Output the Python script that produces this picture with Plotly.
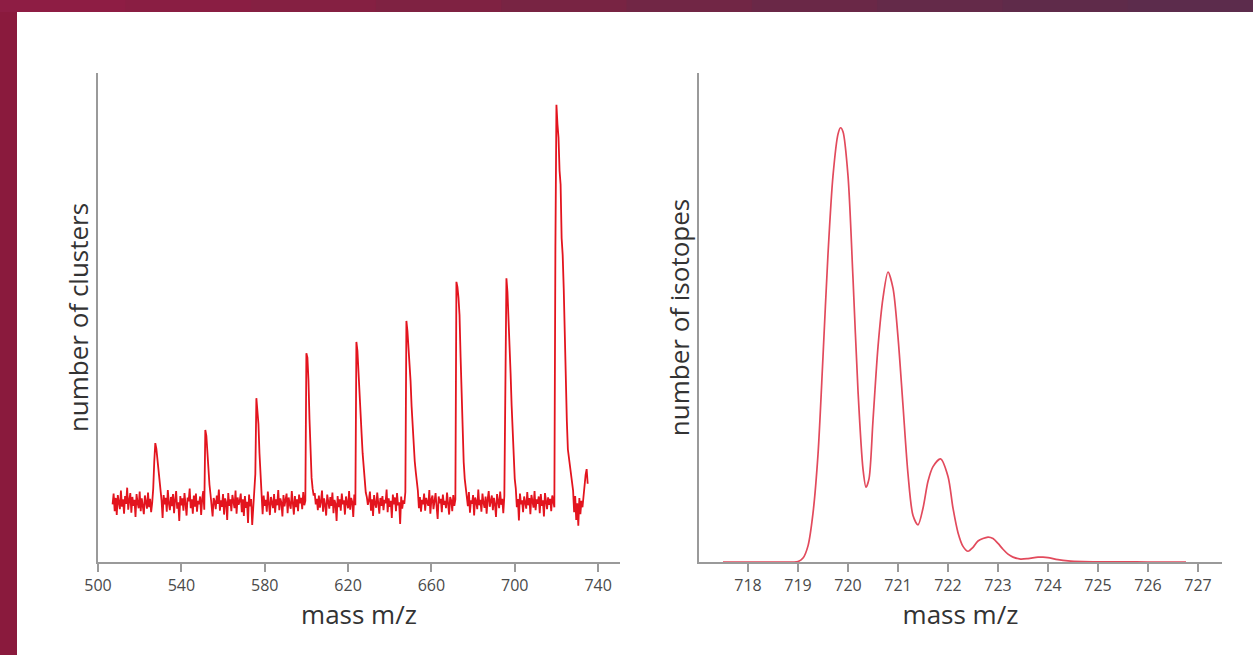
import numpy as np
import plotly.graph_objects as go

# ---------------- Left panel: mass spectrum of clusters ----------------
MZ_START = 507.0
MZ_STEP = 0.5

# baseline readings (arbitrary counts), one every 0.5 m/z from 507 to 735
NOISE = [
    118, 140, 104, 131, 96, 137, 122, 108, 146, 113, 128, 99, 135, 119, 152, 107, 126, 141, 101, 133,
    115, 127, 92, 139, 121, 110, 144, 104, 130, 117, 98, 136, 124, 109, 142, 112, 129, 102, 121, 138,
    125, 108, 134, 97, 129, 143, 111, 126, 90, 137, 118, 131, 103, 147, 120, 106, 133, 114, 139, 100,
    127, 145, 109, 122, 84, 135, 116, 130, 105, 141, 119, 95, 132, 124, 150, 110, 128, 99, 136, 113,
    140, 103, 125, 118, 134, 96, 129, 145, 107, 121, 138, 112, 127, 101, 143, 117, 93, 131, 124, 108,
    136, 119, 148, 105, 126, 113, 139, 97, 130, 122, 86, 141, 115, 128, 104, 137, 120, 110, 146, 99,
    132, 117, 125, 140, 102, 128, 94, 135, 111, 123, 80, 138, 114, 129, 76, 120, 134, 107, 126, 118,
    131, 109, 142, 121, 98, 136, 115, 127, 103, 144, 119, 96, 133, 124, 110, 139, 101, 128, 116, 147,
    106, 130, 122, 93, 137, 114, 126, 140, 100, 132, 118, 109, 145, 123, 97, 135, 112, 128, 104, 138,
    120, 131, 108, 143, 116, 125, 99, 139, 113, 127, 102, 134, 121, 88, 141, 118, 129, 106, 136, 111,
    124, 146, 103, 130, 117, 95, 138, 122, 109, 133, 115, 142, 100, 127, 119, 84, 135, 112, 128, 105,
    140, 118, 126, 97, 134, 121, 110, 145, 107, 131, 123, 92, 138, 116, 129, 103, 136, 120, 114, 127,
    108, 139, 122, 100, 133, 117, 126, 144, 105, 128, 94, 137, 119, 111, 142, 124, 99, 131, 115, 135,
    106, 127, 120, 148, 102, 130, 113, 125, 90, 138, 118, 132, 104, 141, 116, 122, 78, 134, 109, 126,
    119, 143, 112, 128, 100, 135, 121, 107, 139, 117, 130, 96, 145, 124, 110, 133, 103, 127, 118, 140,
    105, 131, 122, 115, 147, 99, 128, 136, 108, 124, 141, 113, 88, 134, 120, 129, 102, 138, 117, 125,
    110, 142, 119, 97, 133, 126, 104, 137, 115, 128, 101, 139, 123, 112, 146, 118, 130, 107, 135, 121,
    130, 114, 143, 101, 126, 119, 137, 95, 132, 124, 108, 148, 116, 127, 103, 140, 121, 111, 134, 99,
    128, 145, 113, 122, 136, 106, 131, 118, 92, 139, 125, 110, 144, 117, 129, 100, 135, 121, 114, 138,
    104, 127, 133, 119, 147, 108, 124, 136, 112, 129, 85, 140, 118, 126, 102, 134, 121, 109, 143, 116,
    131, 98, 137, 123, 111, 145, 106, 128, 119, 134, 100, 139, 115, 126, 93, 141, 122, 108, 132, 117,
    129, 104, 136, 120, 112, 143, 97, 130, 125, 109, 138, 116, 127, 101, 140, 119, 113, 133, 106, 124,
    137, 111, 128, 102, 135, 86, 120, 74, 131, 98, 125, 112, 140, 150, 178, 190, 160,
]

# cluster peaks: first m/z of each peak profile and its readings (0.5 m/z apart)
PEAK_START_MZ = [526.5, 551.5, 575.5, 600.0, 624.0, 648.0, 672.0, 695.5, 719.5]
PEAK_PROFILES = [
    [150, 205, 243, 232, 212, 188, 160, 138],
    [270, 258, 218, 186, 158, 138],
    [180, 335, 312, 282, 222, 176, 150],
    [427, 418, 372, 292, 215, 172, 150, 136],
    [450, 432, 396, 356, 308, 262, 222, 194, 162, 142],
    [493, 472, 442, 410, 370, 318, 272, 236, 206, 184, 164, 146],
    [573, 562, 540, 505, 420, 332, 262, 204, 170, 148],
    [430, 580, 552, 506, 450, 386, 320, 256, 202, 170, 150],
    [640, 935, 895, 868, 800, 772, 662, 628, 560, 468, 340, 288, 230, 214, 190, 180, 160, 146],
]

LEFT_XTICKS = [500, 540, 580, 620, 660, 700, 740]

# ---------------- Right panel: isotope distribution ----------------
ISO_MZ = [717.5, 718.0, 718.5, 719.0, 719.1, 719.2, 719.3, 719.4, 719.5, 719.6, 719.7, 719.8,
          719.85, 719.9, 720.0, 720.1, 720.2, 720.3, 720.36, 720.42, 720.5, 720.6, 720.7, 720.8,
          720.9, 721.0, 721.1, 721.2, 721.3, 721.4, 721.5, 721.6, 721.7, 721.85, 722.0, 722.1,
          722.2, 722.3, 722.4, 722.5, 722.6, 722.8, 722.9, 723.0, 723.1, 723.2, 723.3, 723.45,
          723.6, 723.8, 723.9, 724.0, 724.2, 724.4, 724.7, 725.0, 725.5, 726.0, 726.76]
ISO_COUNT = [0, 0, 0, 0.1, 0.8, 3.3, 10, 22, 42, 63, 79, 87.5,
             88.8, 88, 79, 58, 35, 19, 15.3, 17, 29, 44, 54, 59.3,
             56, 46, 32, 18, 9.5, 7.6, 11, 16.5, 19.5, 21.1, 17.5, 11,
             6, 3.2, 2.2, 3, 4.3, 5.1, 4.8, 3.8, 2.6, 1.6, 1.0, 0.6,
             0.7, 1.0, 1.0, 0.9, 0.5, 0.25, 0.1, 0.05, 0.02, 0, 0]
RIGHT_XTICKS = [718, 719, 720, 721, 722, 723, 724, 725, 726, 727]

# ---------------- build series ----------------
intensity = np.array(NOISE, dtype=float)
mz = MZ_START + MZ_STEP * np.arange(len(intensity))
for start, prof in zip(PEAK_START_MZ, PEAK_PROFILES):
    i0 = int(round((start - MZ_START) / MZ_STEP))
    intensity[i0:i0 + len(prof)] = prof

FONT = "Open Sans, Noto Sans, sans-serif"
AXIS_GREY = "#9a9a9a"
TITLE_FONT = dict(family=FONT, size=26, color="#333333")

fig = go.Figure()
fig.add_trace(go.Scatter(x=mz, y=intensity, mode="lines",
                         line=dict(color="#e3141e", width=1.8),
                         xaxis="x", yaxis="y", showlegend=False, hoverinfo="skip"))
fig.add_trace(go.Scatter(x=ISO_MZ, y=ISO_COUNT, mode="lines",
                         line=dict(color="#e24a5c", width=1.7, shape="spline", smoothing=0.8),
                         xaxis="x2", yaxis="y2", showlegend=False, hoverinfo="skip"))

xcommon = dict(showgrid=False, zeroline=False, showline=True, linecolor=AXIS_GREY, linewidth=2,
               ticks="outside", ticklen=8, tickwidth=1.5, tickcolor=AXIS_GREY,
               tickfont=dict(family=FONT, size=16, color="#4a4a4a"),
               title=dict(text="mass m/z", font=TITLE_FONT, standoff=4))
ycommon = dict(showgrid=False, zeroline=False, showline=True, linecolor=AXIS_GREY, linewidth=2,
               showticklabels=False, ticks="")

fig.update_layout(
    width=1253, height=655,
    margin=dict(l=98, r=31, t=73, b=93),
    paper_bgcolor="white", plot_bgcolor="white",
    xaxis=dict(domain=[0, 0.4644], range=[500, 750.5], tickvals=LEFT_XTICKS, anchor="y", **xcommon),
    yaxis=dict(domain=[0, 1], range=[0, 1000], anchor="x",
               title=dict(text="number of clusters", font=TITLE_FONT, standoff=0),
               **ycommon),
    xaxis2=dict(domain=[0.5347, 1], range=[717.02, 727.48], tickvals=RIGHT_XTICKS, anchor="y2",
                layer="below traces", **xcommon),
    yaxis2=dict(domain=[0, 1], range=[0, 100], anchor="x2",
                title=dict(text="number of isotopes", font=TITLE_FONT, standoff=0),
                **ycommon),
)

# decorative frame: dark magenta strips at the top and left edge
px_w, px_h = 1124.0, 489.0
def px_x(p):
    return (p - 98) / px_w
def px_y(p):
    return (562 - p) / px_h

shapes = [dict(type="rect", xref="paper", yref="paper", x0=px_x(0), x1=px_x(17), y0=px_y(656), y1=px_y(0),
               fillcolor="#8a1a3d", line=dict(width=0), layer="below")]
top_cols = ["#8e1d44", "#8a1e43", "#852042", "#7f2242", "#782443", "#712645", "#6a2847", "#642a49", "#5f2b4a", "#5c2c4c"]
n = len(top_cols)
for k, c in enumerate(top_cols):
    shapes.append(dict(type="rect", xref="paper", yref="paper",
                       x0=px_x(1253 * k / n), x1=px_x(1253 * (k + 1) / n + 1), y0=px_y(12), y1=px_y(0),
                       fillcolor=c, line=dict(width=0), layer="below"))
fig.update_layout(shapes=shapes)

fig.write_html("out.html")
